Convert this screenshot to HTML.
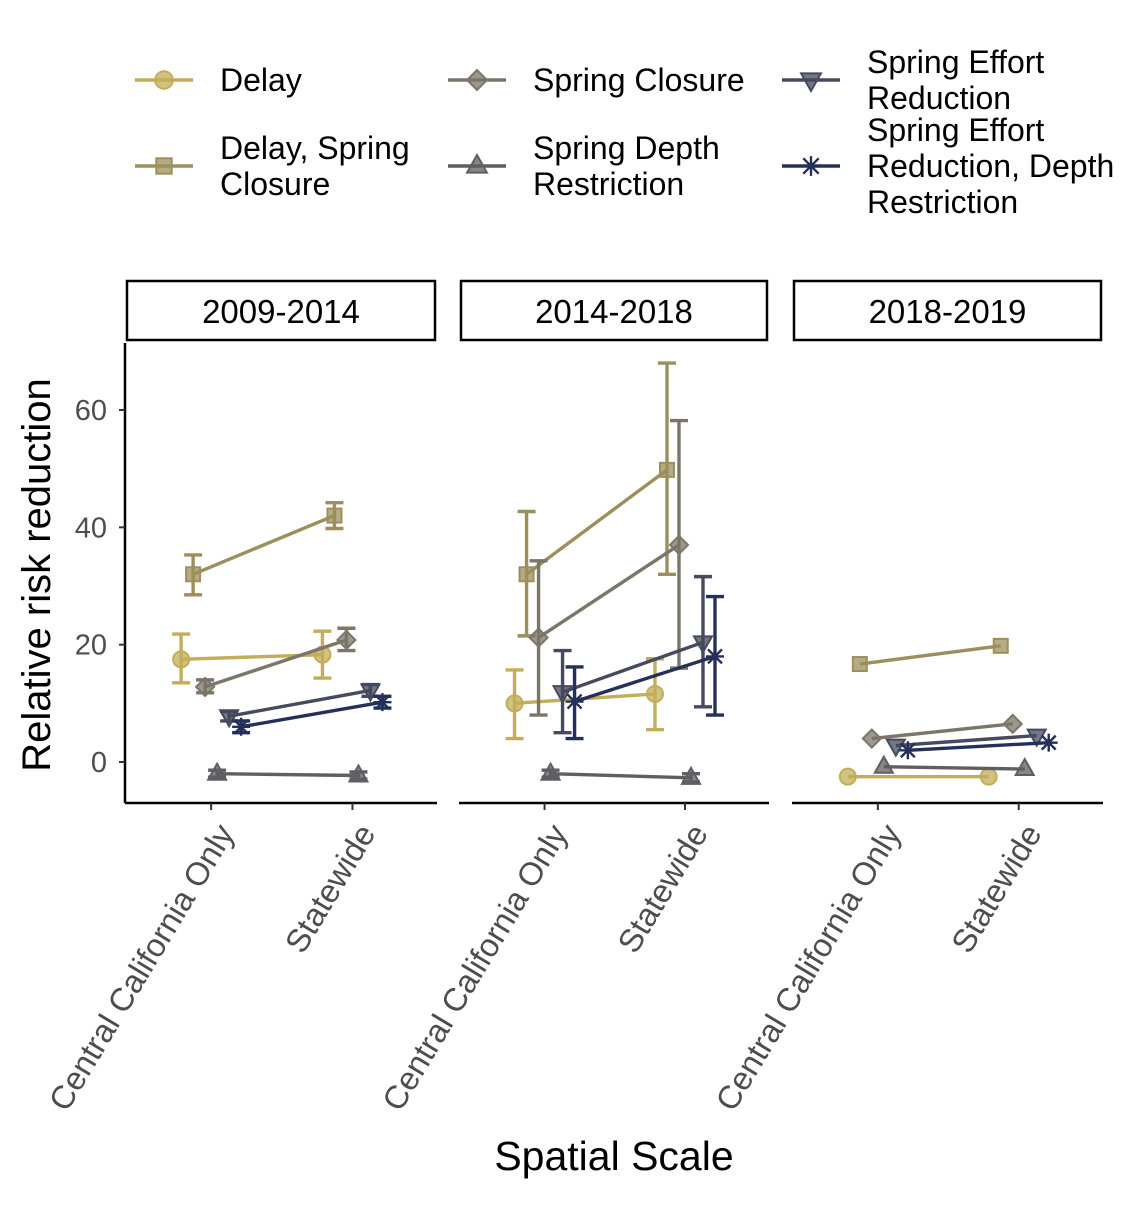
<!DOCTYPE html>
<html><head><meta charset="utf-8"><style>
body{margin:0;background:#fff;}
svg text{font-family:"Liberation Sans",Arial,sans-serif;}
</style></head><body>
<svg id="chart" width="1125" height="1200" xmlns="http://www.w3.org/2000/svg"></svg>
<script>
const facets=["2009-2014","2014-2018","2018-2019"];
const scales=["Central California Only","Statewide"];
const seriesNames=["Delay","Delay, Spring Closure","Spring Closure","Spring Depth Restriction","Spring Effort Reduction","Spring Effort Reduction, Depth Restriction"];
const seriesColors=["#c2ad58","#9c8f5c","#7b7669","#5f5f63","#464a5e","#25305a"];
const seriesShapes=["circle","square","diamond","triangle","tridown","star"];
// values[facet][series] = [central, statewide]
const meanVals=[
 [[17.5,18.3],[32,42],[12.8,20.8],[-2,-2.3],[7.8,12.2],[6,10.2]],
 [[10,11.6],[32,49.8],[21.2,37],[-2,-2.7],[11.9,20.4],[10.3,18]],
 [[-2.5,-2.5],[16.7,19.8],[4,6.5],[-0.8,-1.2],[2.8,4.5],[2,3.3]]
];
const lowVals=[
 [[13.5,14.3],[28.5,39.8],[11.8,19],[-2.6,-2.9],[7,11.2],[5,9.2]],
 [[4,5.5],[21.5,32],[8,16],[-2.6,-3.4],[5,9.4],[4,8]],
 [[-2.5,-2.5],[16.7,19.8],[4,6.5],[-0.8,-1.2],[2.8,4.5],[2,3.3]]
];
const highVals=[
 [[21.8,22.3],[35.3,44.2],[14,22.8],[-1.4,-1.7],[8.6,13.2],[7,11.2]],
 [[15.7,17.6],[42.7,68],[34.3,58.2],[-1.4,-2],[19,31.6],[16.2,28.2]],
 [[-2.5,-2.5],[16.7,19.8],[4,6.5],[-0.8,-1.2],[2.8,4.5],[2,3.3]]
];
const yTicks=[0,20,40,60];

const svg=document.getElementById('chart');
const NS="http://www.w3.org/2000/svg";
function mk(tag,attrs,parent){const e=document.createElementNS(NS,tag);for(const k in attrs)e.setAttribute(k,attrs[k]);(parent||svg).appendChild(e);return e;}
const panelX=[[125,437],[459,769],[792,1103]];
const plotTop=343,plotBot=803;
function yPos(v){return 762-v*(352/60);}
function xPos(f,c,s){const p=panelX[f];const w=p[1]-p[0];const center=p[0]+w*(c===0?0.276:0.729);return center+(s-2.5)*12;}

function marker(shape,x,y,col,g,k){
  k=k||1;
  const a={fill:col,stroke:col,'fill-opacity':0.75,'stroke-width':2};
  let e;
  if(shape==="circle")e=mk('circle',{cx:x,cy:y,r:8*k,...a},g);
  else if(shape==="square")e=mk('rect',{x:x-7*k,y:y-7*k,width:14*k,height:14*k,...a},g);
  else if(shape==="diamond")e=mk('polygon',{points:`${x},${y-9*k} ${x+9*k},${y} ${x},${y+9*k} ${x-9*k},${y}`,...a},g);
  else if(shape==="triangle")e=mk('polygon',{points:`${x},${y-10*k} ${x+9*k},${y+6*k} ${x-9*k},${y+6*k}`,...a},g);
  else if(shape==="tridown")e=mk('polygon',{points:`${x},${y+10*k} ${x+9*k},${y-6*k} ${x-9*k},${y-6*k}`,...a},g);
  else {const r=9*k,q=7*k;e=mk('path',{d:`M${x-r},${y}H${x+r}M${x},${y-r}V${y+r}M${x-q},${y-q}L${x+q},${y+q}M${x+q},${y-q}L${x-q},${y+q}`,stroke:col,'stroke-width':2.4,fill:'none'},g);}
  return e;
}

const yl=mk('text',{x:50,y:575,'font-size':40,'text-anchor':'middle',transform:'rotate(-90 50 575)',fill:'#000'});yl.textContent="Relative risk reduction";


const xl=mk('text',{x:614,y:1170,'font-size':41,'text-anchor':'middle',fill:'#000'});xl.textContent="Spatial Scale";



facets.forEach((fname,f)=>{
  const p=panelX[f];
  const g=mk('g',{});
  
  
  const strip=mk('rect',{x:p[0]+2,y:281,width:p[1]-p[0]-4,height:59,fill:'#fff',stroke:'#000','stroke-width':2.5},g);
  
  
  const st=mk('text',{x:(p[0]+p[1])/2,y:323,'font-size':33,'text-anchor':'middle'},g);st.textContent=fname;
  mk('line',{x1:p[0],x2:p[1],y1:plotBot,y2:plotBot,stroke:'#000','stroke-width':2.5},g);
  if(f===0){
    mk('line',{x1:p[0],x2:p[0],y1:plotTop,y2:plotBot,stroke:'#000','stroke-width':2.5},g);
    yTicks.forEach(t=>{
      mk('line',{x1:p[0]-6,x2:p[0],y1:yPos(t),y2:yPos(t),stroke:'#333','stroke-width':2},g);
      const tt=mk('text',{x:p[0]-18,y:yPos(t)+10,'font-size':29,'text-anchor':'end',fill:'#4d4d4d'},g);tt.textContent=t;
      
      
    });
  }
  scales.forEach((sc,c)=>{
    const cx=xPos(f,c,2.5);
    mk('line',{x1:cx,x2:cx,y1:plotBot,y2:plotBot+7,stroke:'#333','stroke-width':2},g);
    const ax=cx+24,ay=plotBot+30;
    const tl=mk('text',{x:ax,y:ay,'font-size':32.5,'text-anchor':'end',fill:'#4d4d4d',transform:`rotate(-59 ${ax} ${ay})`},g);
    tl.textContent=sc;
    
    
  });
  seriesNames.forEach((sn,s)=>{
    const col=seriesColors[s];
    const sg=mk('g',{},g);
    
    
    const x0=xPos(f,0,s),x1=xPos(f,1,s);
    mk('line',{x1:x0,y1:yPos(meanVals[f][s][0]),x2:x1,y2:yPos(meanVals[f][s][1]),stroke:col,'stroke-width':3.4},sg);
    [0,1].forEach(c=>{
      const x=xPos(f,c,s);
      const lo=yPos(lowVals[f][s][c]),hi=yPos(highVals[f][s][c]);
      if(Math.abs(lo-hi)>0.5){
        mk('path',{d:`M${x-9},${hi}H${x+9}M${x},${hi}V${lo}M${x-9},${lo}H${x+9}`,stroke:col,'stroke-width':3.4,fill:'none'},sg);
      }
      const m=marker(seriesShapes[s],x,yPos(meanVals[f][s][c]),col,sg);
      
      
    });
  });
});

const legPos=[[135,80,["Delay"]],[135,148,["Delay, Spring","Closure"]],[448,80,["Spring Closure"]],[448,148,["Spring Depth","Restriction"]],[782,62,["Spring Effort","Reduction"]],[782,130,["Spring Effort","Reduction, Depth","Restriction"]]];
const legMarkY=[80,166,80,166,80,166];
legPos.forEach((lp,s)=>{
  const g=mk('g',{});
  
  
  const col=seriesColors[s];
  const my=legMarkY[s];
  mk('line',{x1:lp[0],x2:lp[0]+58,y1:my,y2:my,stroke:col,'stroke-width':3.4},g);
  marker(seriesShapes[s],lp[0]+29,my,col,g,1.1);
  lp[2].forEach((t,i)=>{
    const tx=mk('text',{x:lp[0]+85,y:lp[1]+11+i*36,'font-size':32,fill:'#000'},g);tx.textContent=t;
  });
});
</script>
</body></html>
